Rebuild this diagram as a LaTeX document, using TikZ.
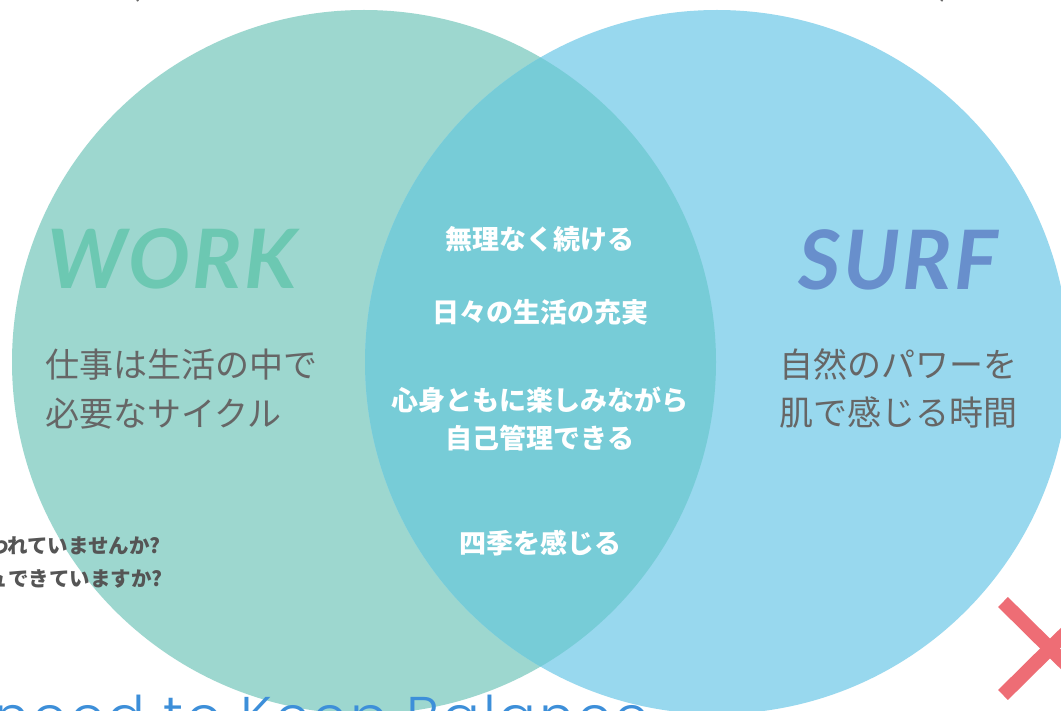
\documentclass[tikz,border=0pt]{standalone}
\usepackage{fontspec}
\newfontfamily\jp{Noto Sans CJK JP}
\newfontfamily\headfont{Lato}[LetterSpace=3]
\newfontfamily\thinfont{Poppins}[UprightFont=* Light, LetterSpace=5]
\definecolor{workfill}{HTML}{9DD7CF}
\definecolor{surffill}{HTML}{98D8EE}
\definecolor{lensfill}{HTML}{77CCD7}
\definecolor{worktext}{HTML}{6CC8B2}
\definecolor{surftext}{HTML}{688FCC}
\definecolor{graytext}{HTML}{666666}
\definecolor{darkgray}{HTML}{555555}
\definecolor{balblue}{HTML}{3D8FD9}
\definecolor{redx}{HTML}{EE6D75}
\tikzset{
  head/.style={inner sep=0pt, font=\headfont\bfseries\itshape\fontsize{82}{86}\selectfont},
  body/.style={inner sep=0pt, text=graytext, font=\jp\fontsize{34}{40}\selectfont},
  mid/.style={inner sep=0pt, text=white, font=\jp\bfseries\fontsize{27}{32}\selectfont},
  side/.style={inner sep=0pt, text=darkgray, font=\jp\bfseries\fontsize{20.5}{24}\selectfont},
  cross/.style={draw=redx, line width=14pt, line cap=butt},
}
\begin{document}
\begin{tikzpicture}[x=1pt,y=-1pt]
\useasboundingbox (0,0) rectangle (1061,711);
\clip (0,0) rectangle (1061,711);
\fill[white] (0,0) rectangle (1061,711);
% circles
\coordinate (cl) at (364,362);
\coordinate (cr) at (717,362);
\fill[workfill] (cl) circle[radius=352];
\fill[surffill] (cr) circle[radius=352];
\begin{scope}
  \clip (cl) circle[radius=352];
  \fill[lensfill] (cr) circle[radius=352];
\end{scope}
% partial brackets at the top edge
\node[body, anchor=base] (lpar) at (135,-4) {(};
\node[body, anchor=base] (rpar) at (945,-4) {)};
% headings
\node[head, text=worktext, anchor=base] (work) at (172,289) {WORK};
\node[head, text=surftext, anchor=base] (surf) at (898,290) {SURF};
% left texts
\node[body, anchor=base west] (w1) at (45,378) {仕事は生活の中で};
\node[body, anchor=base west] (w2) at (45,427) {必要なサイクル};
% right texts
\node[body, anchor=base] (s1) at (898,378) {自然のパワーを};
\node[body, anchor=base] (s2) at (898,426) {肌で感じる時間};
% centre texts
\node[mid, anchor=base] (c1) at (540,250) {無理なく続ける};
\node[mid, anchor=base] (c2) at (540,323) {日々の生活の充実};
\node[mid, anchor=base] (c3) at (540,410) {心身ともに楽しみながら};
\node[mid, anchor=base] (c4) at (540,449) {自己管理できる};
\node[mid, anchor=base] (c5) at (540,553) {四季を感じる};
% side questions
\node[side, anchor=base east] (q1) at (161,553) {われていませんか?};
\node[side, anchor=base east] (q2) at (163,586) {ュできていますか?};
% bottom title
\node[inner sep=0pt, anchor=base west, text=balblue, font=\thinfont\fontsize{56}{60}\selectfont] (title) at (-6,736) {need to Keep Balance};
% red cross
\draw[cross] (1003,602) -- (1097,695);
\draw[cross] (1003,695) -- (1097,602);
\end{tikzpicture}
\end{document}
